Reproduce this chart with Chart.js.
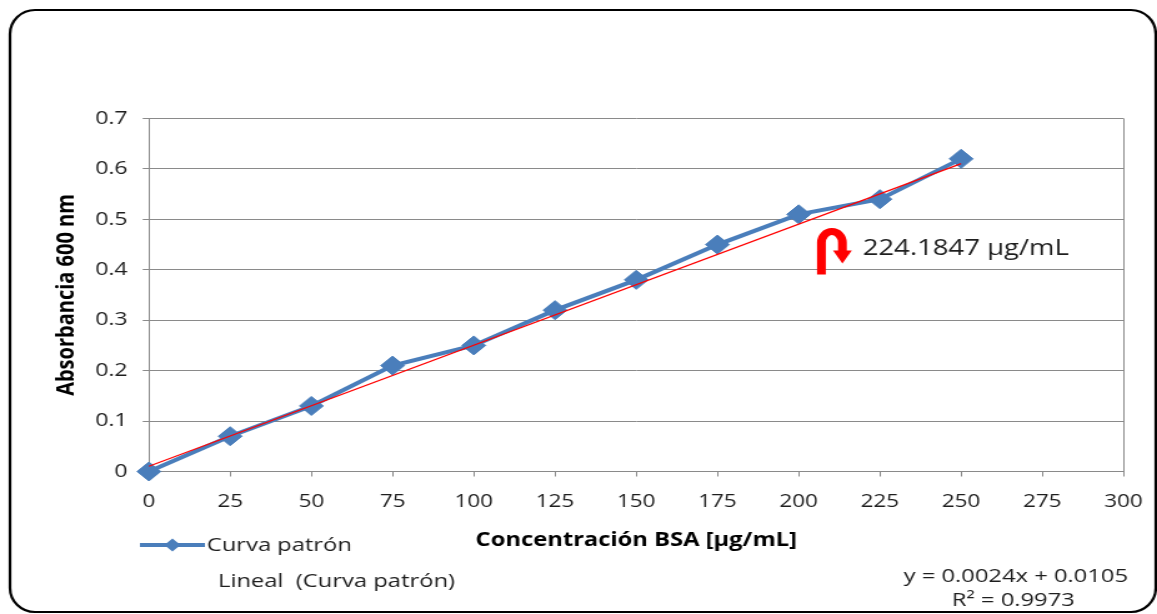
<!DOCTYPE html>
<html>
<head>
<meta charset="utf-8">
<script src="https://cdn.jsdelivr.net/npm/chart.js@4.4.1/dist/chart.umd.min.js"></script>
<style>
html,body{margin:0;padding:0;background:#fff;overflow:hidden;width:1157px;height:614px;}
#wrap{position:absolute;left:0;top:0;width:926px;height:614px;transform:scaleX(1.2495);transform-origin:0 0;}
canvas{display:block;}
</style>
</head>
<body>
<div id="wrap"><canvas id="c" width="926" height="614"></canvas></div>
<script>
// ---- data ----
const concentrations = [0, 25, 50, 75, 100, 125, 150, 175, 200, 225, 250];
const absorbance     = [0, 0.07, 0.13, 0.21, 0.25, 0.32, 0.38, 0.45, 0.51, 0.54, 0.62];
const trendX = [0, 250];
const trendY = [0.0105, 0.6105];
const xTickValues = [0, 25, 50, 75, 100, 125, 150, 175, 200, 225, 250, 275, 300];
const yTickLabels = ['0', '0.1', '0.2', '0.3', '0.4', '0.5', '0.6', '0.7'];
const seriesName = 'Curva patrón';
const trendName = 'Lineal  (Curva patrón)';
const xTitle = 'Concentración BSA [µg/mL]';
const yTitle = 'Absorbancia 600 nm';
const equationLines = ['y = 0.0024x + 0.0105', 'R² = 0.9973'];
const annotationText = '224.1847 µg/mL';
const annotationAt = [207, 0.44];

const FONT = '"Open Sans", "DejaVu Sans", sans-serif';
const GRID = '#8a8a8a';
const BLUE = '#4a7ebb';
const RED = '#ff0000';
const TXT = '#1e1e1e';

Chart.defaults.font.family = FONT;
Chart.defaults.color = TXT;

const curveData = concentrations.map((x, i) => ({x: x, y: absorbance[i]}));
const trendData = trendX.map((x, i) => ({x: x, y: trendY[i]}));

const decor = {
  id: 'decor',
  beforeDraw(chart) {
    const ctx = chart.ctx;
    ctx.save();
    ctx.fillStyle = '#fff';
    ctx.fillRect(0, 0, chart.width, chart.height);
    // rounded frame
    const l = 8, t = 10, r = 925, b = 612, rx = 20, ry = 24;
    ctx.beginPath();
    ctx.moveTo(l + rx, t);
    ctx.lineTo(r - rx, t);
    ctx.ellipse(r - rx, t + ry, rx, ry, 0, -Math.PI / 2, 0);
    ctx.lineTo(r, b - ry);
    ctx.ellipse(r - rx, b - ry, rx, ry, 0, 0, Math.PI / 2);
    ctx.lineTo(l + rx, b);
    ctx.ellipse(l + rx, b - ry, rx, ry, 0, Math.PI / 2, Math.PI);
    ctx.lineTo(l, t + ry);
    ctx.ellipse(l + rx, t + ry, rx, ry, 0, Math.PI, Math.PI * 1.5);
    ctx.closePath();
    ctx.lineWidth = 2.2;
    ctx.strokeStyle = '#000';
    ctx.stroke();
    ctx.restore();
  },
  afterDraw(chart) {
    const ctx = chart.ctx;
    const xs = chart.scales.x, ys = chart.scales.y;
    ctx.save();
    // legend
    const ly1 = 545;
    ctx.strokeStyle = BLUE;
    ctx.lineWidth = 4;
    ctx.beginPath();
    ctx.moveTo(112, ly1);
    ctx.lineTo(164, ly1);
    ctx.stroke();
    ctx.fillStyle = BLUE;
    ctx.beginPath();
    const cx = 138, r = 6.5;
    ctx.moveTo(cx, ly1 - r); ctx.lineTo(cx + r, ly1); ctx.lineTo(cx, ly1 + r); ctx.lineTo(cx - r, ly1);
    ctx.closePath();
    ctx.fill();
    ctx.fillStyle = TXT;
    ctx.font = '19px ' + FONT;
    ctx.textBaseline = 'middle';
    ctx.textAlign = 'left';
    ctx.fillText(chart.data.datasets[1].label, 165.5, ly1 + 1);
    ctx.fillText(chart.data.datasets[0].label, 174.5, 582);

    // equation
    ctx.textAlign = 'center';
    ctx.fillText(equationLines[0], 813, 577);
    ctx.fillText(equationLines[1], 811, 601);

    // annotation: U-turn arrow + value
    const ax = xs.getPixelForValue(annotationAt[0]);
    const ay = ys.getPixelForValue(annotationAt[1]);
    ctx.strokeStyle = RED;
    ctx.fillStyle = RED;
    ctx.lineWidth = 7;
    const sx = ax, rxA = 8.4, ryA = 11;
    const ccx = sx + rxA, ccy = ay - 7;
    ctx.beginPath();
    ctx.moveTo(sx, ay + 25);
    ctx.lineTo(sx, ccy);
    ctx.ellipse(ccx, ccy, rxA, ryA, 0, Math.PI, 0);
    ctx.lineTo(ccx + rxA, ay + 2);
    ctx.stroke();
    ctx.beginPath();
    ctx.moveTo(ccx + rxA - 7.5, ay + 1);
    ctx.lineTo(ccx + rxA + 7.5, ay + 1);
    ctx.lineTo(ccx + rxA, ay + 14);
    ctx.closePath();
    ctx.fill();
    ctx.fillStyle = TXT;
    ctx.font = '22px ' + FONT;
    ctx.textAlign = 'left';
    ctx.textBaseline = 'middle';
    ctx.fillText(annotationText, ax + 33, ay - 1);
    ctx.restore();
  }
};

new Chart(document.getElementById('c'), {
  type: 'scatter',
  data: {
    datasets: [
      {
        label: trendName,
        data: trendData,
        showLine: true,
        borderColor: RED,
        borderWidth: 1.2,
        pointRadius: 0,
        pointHoverRadius: 0,
        clip: false,
        order: 0
      },
      {
        label: seriesName,
        data: curveData,
        showLine: true,
        borderColor: BLUE,
        backgroundColor: BLUE,
        borderWidth: 4,
        pointStyle: 'rectRot',
        pointRadius: 9.5,
        pointBorderWidth: 1,
        pointBorderColor: BLUE,
        pointBackgroundColor: BLUE,
        tension: 0,
        clip: false,
        order: 1
      }
    ]
  },
  options: {
    responsive: false,
    animation: false,
    events: [],
    layout: {padding: {left: 0, top: 118.5, right: 26.8, bottom: 0}},
    plugins: {legend: {display: false}, tooltip: {enabled: false}},
    scales: {
      x: {
        type: 'linear',
        min: 0, max: 300,
        afterBuildTicks(s) { s.ticks = xTickValues.map(v => ({value: v})); },
        afterFit(s) { s.height = 142.5; s.paddingLeft = 0; s.paddingRight = 0; },
        ticks: {
          font: {size: 18},
          color: TXT,
          padding: 15,
          maxRotation: 0,
          autoSkip: false,
          callback: v => String(v)
        },
        grid: {
          drawOnChartArea: true,
          color: c => (c.tick && c.tick.value === 300) ? GRID : 'rgba(0,0,0,0)',
          tickColor: GRID,
          tickLength: 5,
          lineWidth: 1
        },
        border: {display: true, color: GRID, width: 1},
        title: {
          display: true,
          text: xTitle,
          color: '#000',
          font: {size: 19, weight: 'bold'},
          padding: {top: 0, bottom: 61.6}
        }
      },
      y: {
        type: 'linear',
        min: 0, max: 0.7,
        afterBuildTicks(s) { s.ticks = yTickLabels.map(t => ({value: parseFloat(t)})); },
        afterFit(s) { s.width = 119.2; s.paddingTop = 0; s.paddingBottom = 0; },
        ticks: {
          font: {size: 18.5},
          color: TXT,
          padding: 12,
          autoSkip: false,
          callback: (v, i) => yTickLabels[i]
        },
        grid: {
          color: GRID,
          tickColor: GRID,
          tickLength: 5,
          lineWidth: 1
        },
        border: {display: true, color: GRID, width: 1},
        title: {
          display: true,
          text: yTitle,
          color: '#000',
          font: {size: 20, weight: 'bold'},
          padding: {top: 41.6, bottom: 0}
        }
      }
    }
  },
  plugins: [decor]
});
</script>
</body>
</html>
